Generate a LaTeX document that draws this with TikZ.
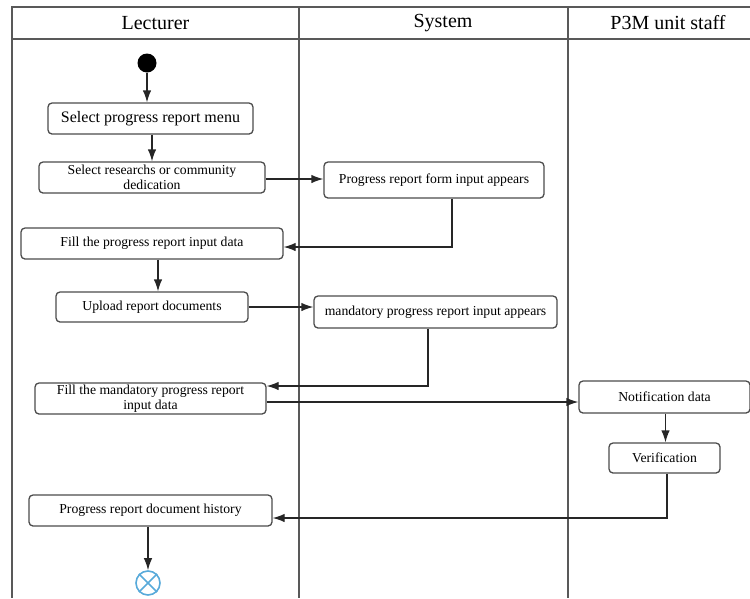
\documentclass[tikz,border=0pt]{standalone}
\usepackage{fontspec}
\setmainfont{Liberation Serif}
\usetikzlibrary{arrows.meta}
\definecolor{endblue}{RGB}{88,170,218}

\begin{document}
\begin{tikzpicture}[x=1pt,y=-1pt,
  act/.style={draw=black!70,line width=1.3pt,rounded corners=4pt,align=center,
    font=\fontsize{13.7}{15.5}\selectfont,inner sep=0pt},
  flow/.style={draw=black!85,line width=1.3pt,-{Latex[length=12pt,width=8.5pt]}},
  lane/.style={draw=black!65,line width=1.6pt},
  head/.style={font=\fontsize{20}{22}\selectfont}]
\useasboundingbox (0,0) rectangle (750,598);
% swimlanes
\draw[lane] (750,7) -- (12,7) -- (12,598);
\draw[lane] (12,39) -- (750,39);
\draw[lane] (299,7) -- (299,598); \draw[lane] (568,7) -- (568,598);
\node[head] (lecturer) at (155.5,23) {Lecturer};
\node[head] (system) at (443,23) {System};
\node[head] (staff) at (668,23) {P3M unit staff};
% lecturer
\node[circle,fill=black,inner sep=0pt,minimum size=19pt] (start) at (147,63) {};
\node[act,minimum width=205pt,minimum height=31pt,font=\fontsize{16}{18}\selectfont] (menu) at (150.5,118.5) {Select progress report menu};
\node[act,minimum width=226pt,minimum height=31pt] (choose) at (152,177.5) {Select researchs or community\\dedication};
\node[act,minimum width=262pt,minimum height=31pt] (fillform) at (152,243.5) {Fill the progress report input data};
\node[act,minimum width=192pt,minimum height=30pt] (upload) at (152,307) {Upload report documents};
\node[act,minimum width=231pt,minimum height=31pt] (fillmand) at (150.5,398.5) {Fill the mandatory progress report\\input data};
\node[act,minimum width=243pt,minimum height=31pt] (history) at (150.5,510.5) {Progress report document history};
\node[circle,draw=endblue,line width=1.6pt,inner sep=0pt,minimum size=24pt] (end) at (148,583) {};
\draw[endblue,line width=1.6pt] (end.north east) -- (end.south west) (end.north west) -- (end.south east);
% system
\node[act,minimum width=220pt,minimum height=36pt] (form) at (434,180) {Progress report form input appears};
\node[act,minimum width=243pt,minimum height=32pt] (mandatory) at (435.5,312) {mandatory progress report input appears};
% staff
\node[act,minimum width=171pt,minimum height=32pt] (notif) at (664.5,397) {Notification data};
\node[act,minimum width=111pt,minimum height=30pt] (verif) at (664.5,458) {Verification};
% flows
\draw[flow] (start) -- (start |- menu.north);
\draw[flow] ([xshift=1.5pt]menu.south) -- ([xshift=1.5pt]menu.south |- choose.north);
\draw[flow] ([yshift=-1.5pt]choose.east) -- ([yshift=-1.5pt]choose.east -| form.west);
\draw[flow] ([xshift=18pt]form.south) |- ([yshift=-3.5pt]fillform.east);
\draw[flow] ([xshift=6pt]fillform.south) -- ([xshift=6pt]fillform.south |- upload.north);
\draw[flow] (upload.east) -- (upload.east -| mandatory.west);
\draw[flow] ([xshift=-7.5pt]mandatory.south) |- ([yshift=12.5pt]fillmand.east);
\draw[flow] ([yshift=-3.5pt]fillmand.east) -- ([yshift=-3.5pt]fillmand.east -| notif.west);
\draw[flow] ([xshift=1pt]notif.south) -- ([xshift=1pt]notif.south |- verif.north);
\draw[flow] ([xshift=2.5pt]verif.south) |- ([yshift=-7.5pt]history.east);
\draw[flow] (history.south -| end) -- (end.north);
\end{tikzpicture}
\end{document}
